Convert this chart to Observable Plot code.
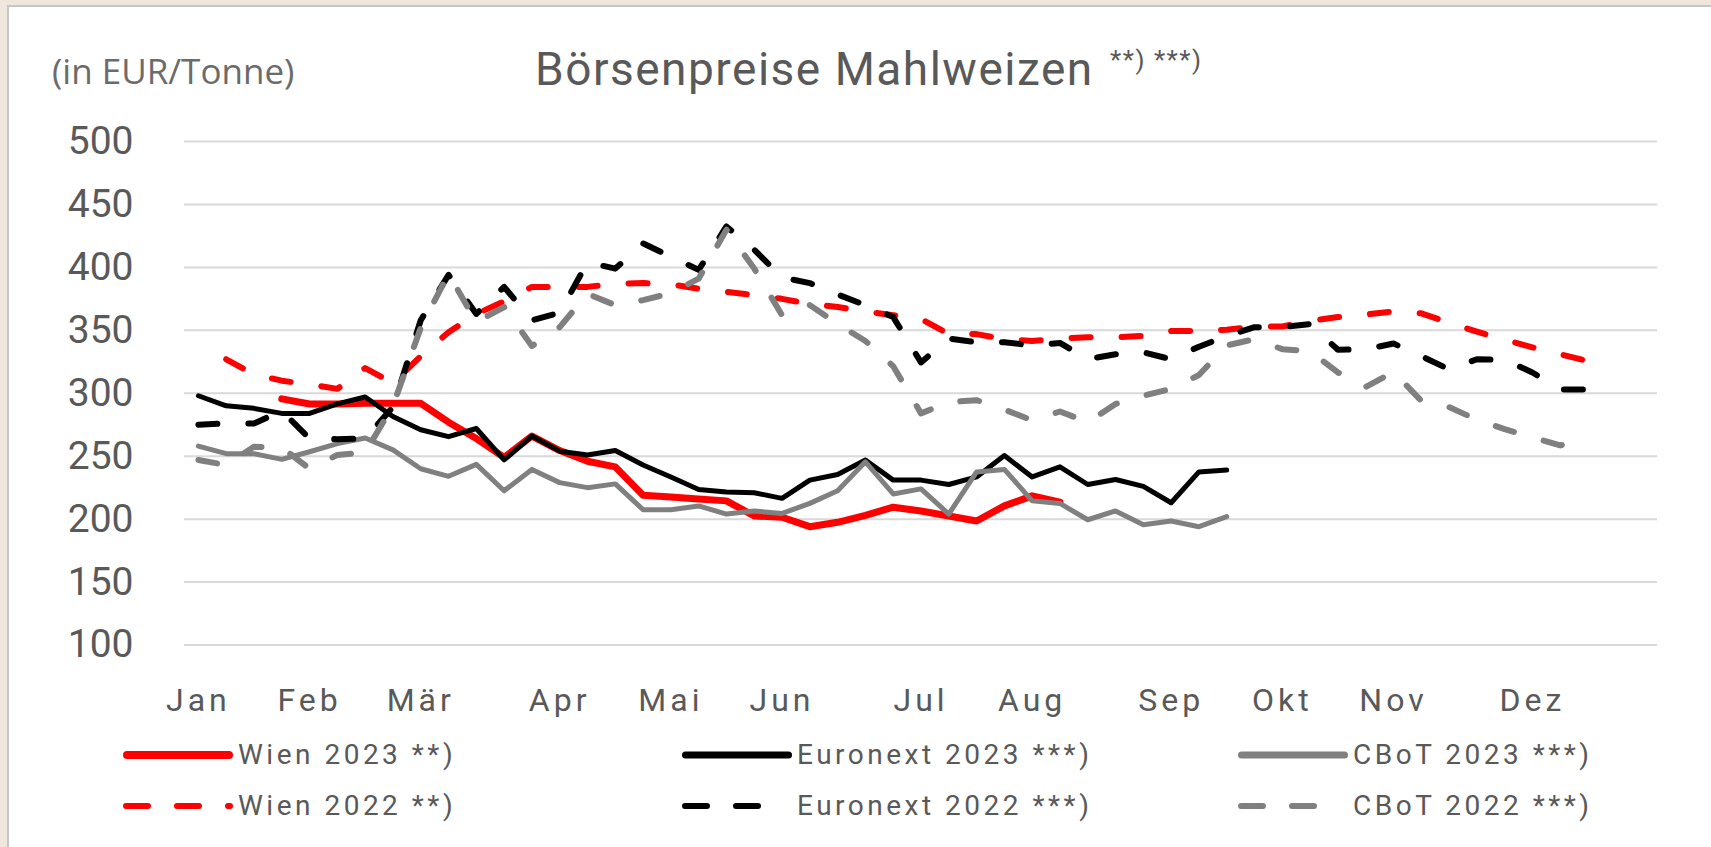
<!DOCTYPE html>
<html>
<head>
<meta charset="utf-8">
<script src="https://cdn.jsdelivr.net/npm/d3@7"></script>
<script src="https://cdn.jsdelivr.net/npm/@observablehq/plot@0.6"></script>
<style>
  html, body { margin: 0; padding: 0; width: 1711px; height: 847px; overflow: hidden; background: #EFE7DD; }
  #panel { position: absolute; left: 7px; top: 5px; right: 0; bottom: 0; background: #fff;
           border-left: 2.5px solid #C6C6C6; border-top: 2.5px solid #C6C6C6; }
  .abs { position: absolute; white-space: nowrap; color: #595959; }
  #title { left: 535px; top: 46px; font: 46px/46px Roboto, sans-serif; letter-spacing: 1.5px; }
  #sup { left: 1110px; top: 47px; font: 26px/26px Roboto, sans-serif; letter-spacing: 1.5px; }
  #unit { left: 52px; top: 53px; font: 35px/35px "Open Sans", sans-serif; color: #6b6b6b; }
  #chart { position: absolute; left: 0; top: 100px; }
  .leg { position: absolute; display: flex; align-items: center; height: 30px; }
  .leg span { font: 28px/28px Roboto, sans-serif; color: #595959; letter-spacing: 3.5px; white-space: nowrap; }
</style>
</head>
<body>
<div id="panel"></div>
<div id="unit" class="abs">(in EUR/Tonne)</div>
<div id="title" class="abs">Börsenpreise Mahlweizen</div>
<div id="sup" class="abs">**) ***)</div>
<div id="chart"></div>
<div id="legend"></div>
<script>
// ---- categories / ticks ----
const monthLabels = ["Jan","Feb","Mär","Apr","Mai","Jun","Jul","Aug","Sep","Okt","Nov","Dez"];
const monthWeekIdx = [0,4,8,13,17,21,26,30,35,39,43,48];   // week index (0-based) where each month label sits
const yTicks = [100,150,200,250,300,350,400,450,500];

// ---- series values, index = calendar week - 1 (null = no value) ----
const wien2023 = [null,null,null,295.5,291.5,291.5,292,292,292,277,264,249,266,254.5,246,241.5,219,217.5,216,214.5,202.5,201.5,194,197.5,203,209.5,206.5,202.5,198.5,210.5,218.5,213.5];
const euronext2023 = [298,290,288,284,284,291.5,297,281.5,271,265.5,272,247,266,254,251,254.5,243,233.5,223.5,221.5,221,216.5,231,235.5,247,231,231,227.5,233.5,250.5,233.5,241.5,227.5,231.5,226,213,237.5,239];
const cbot2023 = [258,252,252,247.5,253.5,260,264.5,255,240,234,243.5,222.5,239.5,229,225,228,207.5,207.5,210.5,204,206.5,204.5,212.5,222.5,245.5,220,224,204,237.5,239.5,214.5,212.5,199.5,206.5,195.5,198.5,194,202];
const wien2022 = [null,327,315,310,307,303.5,320,308,329.5,348.5,363,373,384.5,384.5,384.5,387,387.5,386.5,383,380.5,378,375,371,368.5,365,362,359,347,347,343,341.5,343.5,344.5,344.5,345.5,349.5,349.5,350.5,353,353,357.5,360.5,362.5,365,363.5,356,349,342.5,336.5,331,325.5];
const euronext2022 = [275,276,276,286,264,263.5,264,289,358,394,363,384.5,358,364,404,399,419,408.5,398,432.5,414,392,387.5,378.5,370,360.5,324.5,343.5,340.5,340.5,338,340,327,331,332.5,327,337,345.5,352.5,352.5,355,334.5,335,339.5,329.5,319,327,326.5,316.5,303,303];
const cbot2022 = [247,243,257.5,257,240,251,253,290,352,395,356.5,368.5,337.5,352.5,379,370,374,379.5,391,430,399,362,370,355,341.5,321.5,284,293,294.5,287,278.5,285.5,277,291.5,298,303.5,314.5,338,343,335,333.5,316.5,305,317,294,289,279,271.5,265,258.5,265];

// ---- series styling ----
const series = [
  {name: "Wien 2023 **)",      values: wien2023,     color: "#FF0000", width: 7,   dash: null, legEnd: 110},
  {name: "Euronext 2023 ***)", values: euronext2023, color: "#000000", width: 5,   dash: null, legEnd: 110},
  {name: "CBoT 2023 ***)",     values: cbot2023,     color: "#808080", width: 5,   dash: null, legEnd: 110},
  {name: "Wien 2022 **)",      values: wien2022,     color: "#FF0000", width: 6,   dash: "19,31", legEnd: 107},
  {name: "Euronext 2022 ***)", values: euronext2022, color: "#000000", width: 6,   dash: "19,31", legEnd: 80},
  {name: "CBoT 2022 ***)",     values: cbot2022,     color: "#808080", width: 6,   dash: "19,31", legEnd: 80}
];

const lineMarks = series.map(s => Plot.line(s.values, {
  x: (d, i) => i, y: d => d,
  stroke: s.color, strokeWidth: s.width,
  strokeDasharray: s.dash || undefined,
  strokeLinecap: "round", strokeLinejoin: "round"
}));

const chart = Plot.plot({
  width: 1711, height: 620,
  marginLeft: 184, marginRight: 54, marginTop: 41, marginBottom: 75.5,
  x: {domain: [-0.5, 52.5], axis: null},
  y: {domain: [100, 500], axis: null},
  style: {fontFamily: "Roboto, sans-serif", color: "#595959", background: "transparent", overflow: "visible"},
  marks: [
    Plot.gridY({ticks: yTicks, stroke: "#D9D9D9", strokeOpacity: 1, strokeWidth: 2}),
    ...lineMarks,
    Plot.axisY({ticks: yTicks, tickSize: 0, tickPadding: 51, fontSize: 39, tickFormat: d => String(d), label: null}),
    Plot.axisX({ticks: monthWeekIdx, tickSize: 0, tickPadding: 43.5, fontSize: 32,
                tickFormat: d => monthLabels[monthWeekIdx.indexOf(d)], label: null})
  ]
});
document.getElementById("chart").appendChild(chart);
d3.select(chart).selectAll('g[aria-label="x-axis tick label"] text').style("letter-spacing", "4px");

// ---- legend (HTML below the chart) ----
const legendCols = [123, 682, 1238];
const legendRows = [755, 806];
const legendEl = document.getElementById("legend");
series.forEach((s, k) => {
  const col = k % 3, row = Math.floor(k / 3);
  const div = document.createElement("div");
  div.className = "leg";
  div.style.left = legendCols[col] + "px";
  div.style.top = (legendRows[row] - 15) + "px";
  const sw = s.dash ? 6 : (s.color === "#FF0000" ? 8 : 7);
  const svgNS = "http://www.w3.org/2000/svg";
  const sv = document.createElementNS(svgNS, "svg");
  sv.setAttribute("width", 112); sv.setAttribute("height", 30);
  const ln = document.createElementNS(svgNS, "line");
  ln.setAttribute("x1", sw / 2); ln.setAttribute("x2", s.dash ? s.legEnd : s.legEnd - sw / 2);
  ln.setAttribute("y1", 15); ln.setAttribute("y2", 15);
  ln.setAttribute("stroke", s.color); ln.setAttribute("stroke-width", sw);
  ln.setAttribute("stroke-linecap", "round");
  if (s.dash) ln.setAttribute("stroke-dasharray", "22,29");
  sv.appendChild(ln);
  div.appendChild(sv);
  const sp = document.createElement("span");
  sp.textContent = s.name;
  sp.style.marginLeft = "3px";
  div.appendChild(sp);
  legendEl.appendChild(div);
});
</script>
</body>
</html>
